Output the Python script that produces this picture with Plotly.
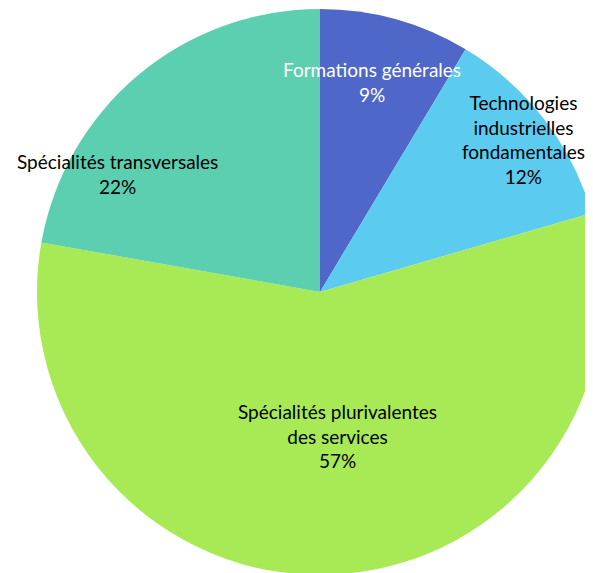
import plotly.graph_objects as go

labels = [
    "Formations générales",
    "Technologies industrielles fondamentales",
    "Spécialités plurivalentes des services",
    "Spécialités transversales",
]
label_lines = [
    ["Formations générales"],
    ["Technologies", "industrielles", "fondamentales"],
    ["Spécialités plurivalentes", "des services"],
    ["Spécialités transversales"],
]
values = [8.6, 11.9, 57.3, 22.2]
pct_text = ["9%", "12%", "57%", "22%"]
colors = ["#4f67c9", "#5bcbf0", "#a8ea55", "#5ccfb0"]
text_colors = ["white", "black", "black", "black"]

# page body adds an 8px margin; the figure is wider than the window and gets clipped
OFF = 8
W, H = 600, 580
CX, CY, R = 320 - OFF, 292 - OFF, 283
label_pos = [(372, 82), (523, 139), (337, 436), (118, 174)]

fig = go.Figure(go.Pie(
    labels=labels,
    values=values,
    sort=False,
    direction="clockwise",
    rotation=0,
    marker=dict(colors=colors, line=dict(width=0)),
    textinfo="none",
    hoverinfo="label+percent",
    domain=dict(x=[(CX - R) / W, (CX + R) / W],
                y=[1 - (CY + R) / H, 1 - (CY - R) / H]),
    showlegend=False,
))

annotations = []
for lines, pct, (px, py), tc in zip(label_lines, pct_text, label_pos, text_colors):
    annotations.append(dict(
        text="<br>".join(lines + [pct]),
        x=(px - OFF) / W, y=1 - (py - OFF) / H, xref="paper", yref="paper",
        xanchor="center", yanchor="middle", showarrow=False,
        font=dict(family="Lato, 'Open Sans', sans-serif", size=19, color=tc),
    ))

fig.update_layout(
    width=W, height=H,
    margin=dict(l=0, r=0, t=0, b=0),
    paper_bgcolor="white",
    plot_bgcolor="white",
    annotations=annotations,
)

fig.write_html("out.html")
